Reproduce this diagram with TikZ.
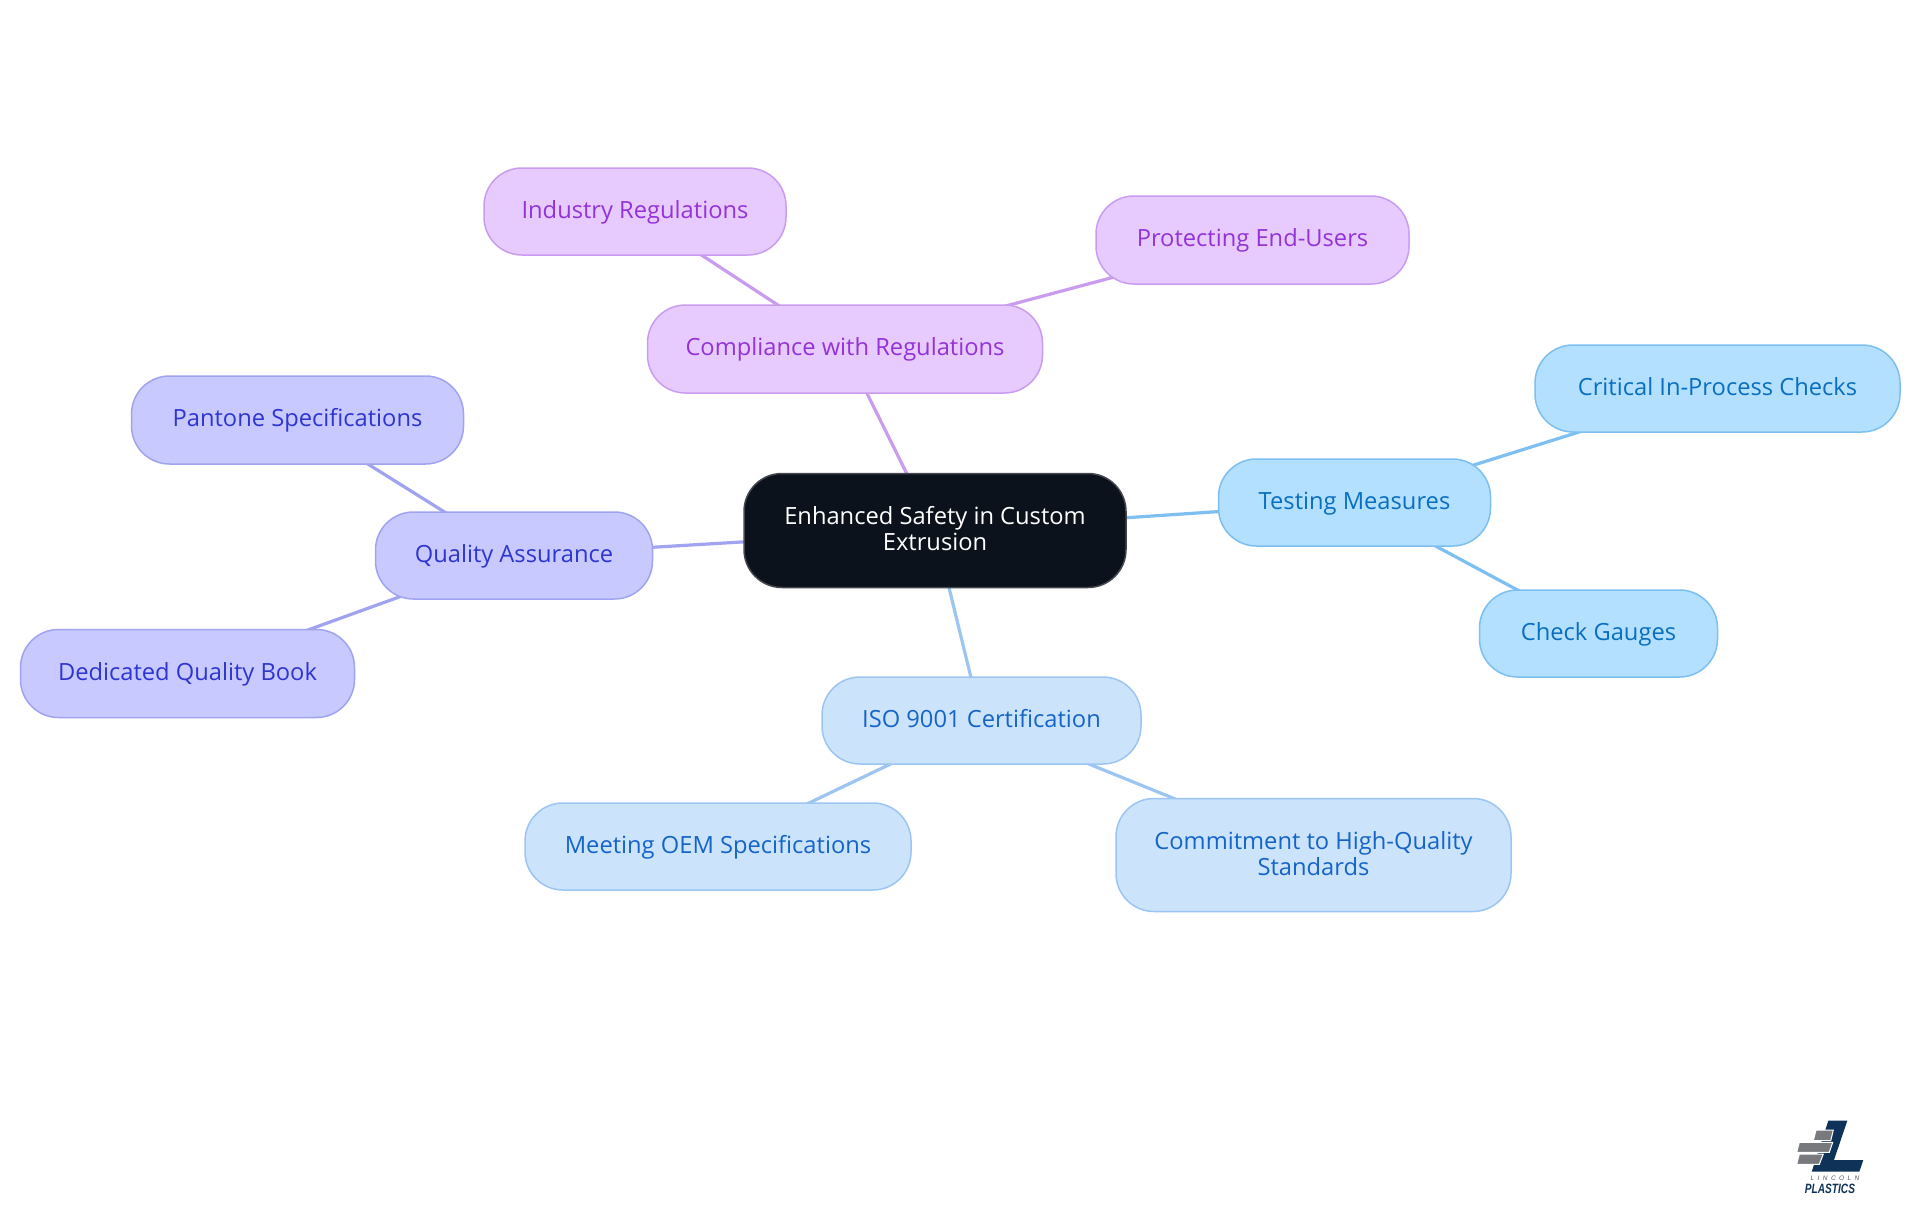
\documentclass[tikz,border=0pt]{standalone}
\usepackage{fontspec}
\setmainfont{Open Sans}
\newfontfamily\logofont{Liberation Sans}
\usetikzlibrary{backgrounds}
\definecolor{rootfill}{HTML}{0B121B}
\definecolor{rootline}{HTML}{44484E}
\definecolor{purplefill}{HTML}{E7CBFF}
\definecolor{purpleline}{HTML}{C99CF0}
\definecolor{purpletext}{HTML}{9333D8}
\definecolor{skyfill}{HTML}{B3E0FF}
\definecolor{skyline}{HTML}{7CBFF0}
\definecolor{skytext}{HTML}{0A6FC0}
\definecolor{bluefill}{HTML}{CCE3FC}
\definecolor{blueline}{HTML}{9CC5F2}
\definecolor{bluetext}{HTML}{1565C8}
\definecolor{indigofill}{HTML}{C8CAFF}
\definecolor{indigoline}{HTML}{9FA3F0}
\definecolor{indigotext}{HTML}{2E35D0}
\definecolor{logonavy}{HTML}{0F3358}
\definecolor{logogrey}{HTML}{77797C}
\tikzset{
    topic/.style={draw, rounded corners=38pt, line width=1.5pt, inner sep=0pt, font=\fontsize{23.7}{26}\selectfont, text height=18pt, text depth=5pt},
    twolines/.style={align=center, text height=, text depth=4pt},
    rootnode/.style={topic, fill=rootfill, draw=rootline, text=white},
    purplenode/.style={topic, fill=purplefill, draw=purpleline, text=purpletext},
    skynode/.style={topic, fill=skyfill, draw=skyline, text=skytext},
    bluenode/.style={topic, fill=bluefill, draw=blueline, text=bluetext},
    indigonode/.style={topic, fill=indigofill, draw=indigoline, text=indigotext},
    branch/.style={line width=3.2pt},
    brick/.style={fill=logogrey, draw=white, line width=1pt}
}

\begin{document}
\begin{tikzpicture}[x=1pt, y=-1pt]
    \useasboundingbox (0,0) rectangle (1920,1215);
    % centre
    \node[rootnode, twolines, minimum width=382pt, minimum height=114pt] (root) at (935,530.5) {Enhanced Safety in Custom\\Extrusion};
    % compliance
    \node[purplenode, minimum width=395pt, minimum height=88pt] (compliance) at (845,349) {Compliance with Regulations};
    \node[purplenode, minimum width=302pt, minimum height=87pt] (industry) at (635,211.5) {Industry Regulations};
    \node[purplenode, minimum width=313pt, minimum height=88pt] (endusers) at (1252.5,240) {Protecting End-Users};
    % testing
    \node[skynode, minimum width=272pt, minimum height=87pt] (testing) at (1354.5,502.5) {Testing Measures};
    \node[skynode, minimum width=365pt, minimum height=87pt] (critical) at (1717.5,388.5) {Critical In-Process Checks};
    \node[skynode, minimum width=238pt, minimum height=87pt] (gauges) at (1598.5,633.5) {Check Gauges};
    % iso
    \node[bluenode, minimum width=319pt, minimum height=87pt] (iso) at (981.5,720.5) {ISO 9001 Certification};
    \node[bluenode, minimum width=386pt, minimum height=87pt] (oem) at (718,846.5) {Meeting OEM Specifications};
    \node[bluenode, twolines, minimum width=395pt, minimum height=113pt] (commitment) at (1313.5,855) {Commitment to High-Quality\\Standards};
    % quality
    \node[indigonode, minimum width=277pt, minimum height=87pt] (quality) at (514,555.5) {Quality Assurance};
    \node[indigonode, minimum width=332pt, minimum height=88pt] (pantone) at (297.5,420) {Pantone Specifications};
    \node[indigonode, minimum width=334pt, minimum height=88pt] (book) at (187.5,673.5) {Dedicated Quality Book};
    % connectors
    \begin{scope}[on background layer]
        \draw[branch, purpleline] (root.center) -- (compliance.center);
        \draw[branch, purpleline] (compliance.center) -- (industry.center);
        \draw[branch, purpleline] (compliance.center) -- (endusers.center);
        \draw[branch, skyline] (root.center) -- (testing.center);
        \draw[branch, skyline] (testing.center) -- (critical.center);
        \draw[branch, skyline] (testing.center) -- (gauges.center);
        \draw[branch, blueline] (root.center) -- (iso.center);
        \draw[branch, blueline] (iso.center) -- (oem.center);
        \draw[branch, blueline] (iso.center) -- (commitment.center);
        \draw[branch, indigoline] (root.center) -- (quality.center);
        \draw[branch, indigoline] (quality.center) -- (pantone.center);
        \draw[branch, indigoline] (quality.center) -- (book.center);
    \end{scope}
    % logo
    \fill[logonavy] (1828.3,1120.7) -- (1847.3,1120.7) -- (1834,1160) -- (1863.3,1160) -- (1859.3,1171.7) -- (1811.7,1171.7) -- cycle;
    \draw[brick] (1816,1130) -- (1833.3,1130) -- (1830.7,1140.7) -- (1813.3,1140.7) -- cycle;
    \draw[brick] (1799.3,1142.3) -- (1832.7,1142.3) -- (1829.3,1152.3) -- (1796.7,1152.3) -- cycle;
    \draw[brick] (1799.3,1154) -- (1823.3,1154) -- (1819.3,1164.3) -- (1796.7,1164.3) -- cycle;
    \node[text=logogrey!70!black, inner sep=0pt, font=\logofont\itshape\fontsize{6.5}{7}\selectfont] (lincoln) at (1835,1178.3) {\addfontfeature{LetterSpace=53}LINCOLN};
    \node[text=logonavy, inner sep=0pt, xscale=0.75, transform shape, font=\logofont\bfseries\itshape\fontsize{13.5}{14}\selectfont] (plastics) at (1830,1188.7) {PLASTICS};
\end{tikzpicture}
\end{document}
